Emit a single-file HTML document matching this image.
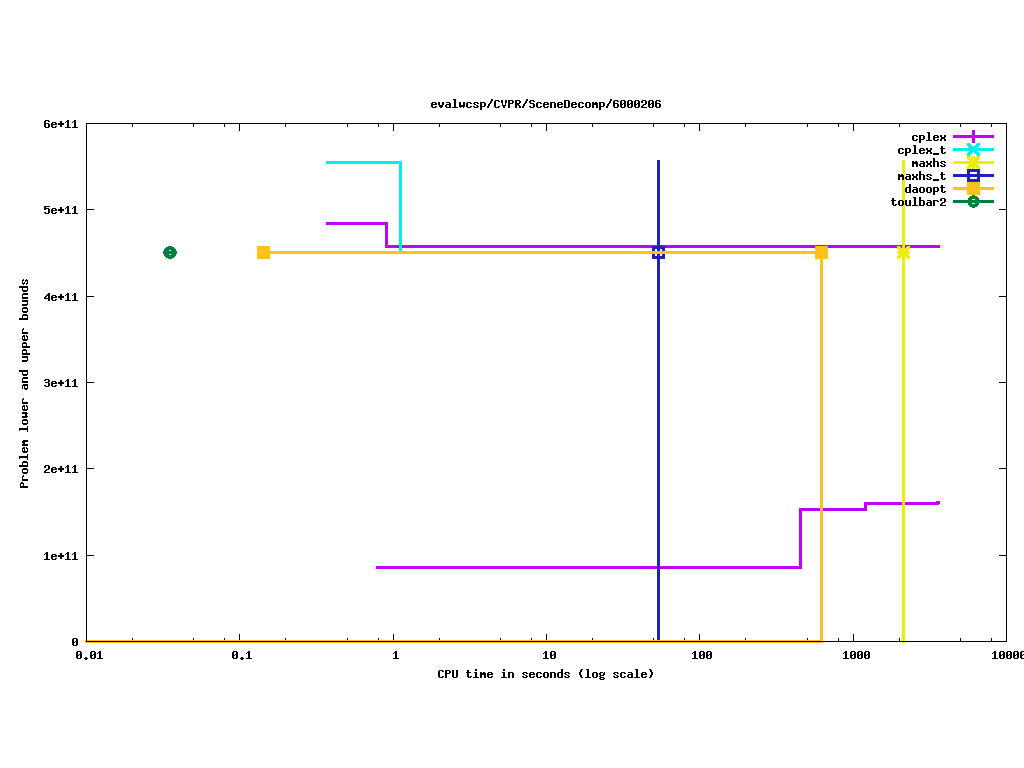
<!DOCTYPE html>
<html><head><meta charset="utf-8"><title>evalwcsp/CVPR/SceneDecomp/6000206</title>
<style>
html,body{margin:0;padding:0;background:#fff;overflow:hidden}
svg{display:block}
</style></head><body>
<svg width="1024" height="768" viewBox="0 0 1024 768" shape-rendering="crispEdges">
<defs>
<path id="g61" d="M1 5h4v1h-4zM4 6h2v1h-2zM1 7h5v1h-5zM0 8h2v1h-2zM4 8h2v1h-2zM0 9h2v1h-2zM4 9h2v1h-2zM1 10h5v1h-5z"/>
<path id="g62" d="M0 2h2v1h-2zM0 3h2v1h-2zM0 4h2v1h-2zM0 5h5v1h-5zM0 6h2v1h-2zM4 6h2v1h-2zM0 7h2v1h-2zM4 7h2v1h-2zM0 8h2v1h-2zM4 8h2v1h-2zM0 9h2v1h-2zM4 9h2v1h-2zM0 10h5v1h-5z"/>
<path id="g63" d="M1 5h4v1h-4zM0 6h2v1h-2zM4 6h2v1h-2zM0 7h2v1h-2zM0 8h2v1h-2zM0 9h2v1h-2zM4 9h2v1h-2zM1 10h4v1h-4z"/>
<path id="g64" d="M4 2h2v1h-2zM4 3h2v1h-2zM4 4h2v1h-2zM1 5h5v1h-5zM0 6h2v1h-2zM4 6h2v1h-2zM0 7h2v1h-2zM4 7h2v1h-2zM0 8h2v1h-2zM4 8h2v1h-2zM0 9h2v1h-2zM4 9h2v1h-2zM1 10h5v1h-5z"/>
<path id="g65" d="M1 5h4v1h-4zM0 6h2v1h-2zM4 6h2v1h-2zM0 7h6v1h-6zM0 8h2v1h-2zM0 9h2v1h-2zM4 9h2v1h-2zM1 10h4v1h-4z"/>
<path id="g67" d="M1 5h3v1h-3zM5 5h1v1h-1zM0 6h2v1h-2zM4 6h2v1h-2zM0 7h2v1h-2zM4 7h2v1h-2zM1 8h4v1h-4zM0 9h2v1h-2zM1 10h4v1h-4zM0 11h2v1h-2zM4 11h2v1h-2zM1 12h4v1h-4z"/>
<path id="g68" d="M0 2h2v1h-2zM0 3h2v1h-2zM0 4h2v1h-2zM0 5h5v1h-5zM0 6h2v1h-2zM4 6h2v1h-2zM0 7h2v1h-2zM4 7h2v1h-2zM0 8h2v1h-2zM4 8h2v1h-2zM0 9h2v1h-2zM4 9h2v1h-2zM0 10h2v1h-2zM4 10h2v1h-2z"/>
<path id="g69" d="M2 2h2v1h-2zM2 3h2v1h-2zM1 5h3v1h-3zM2 6h2v1h-2zM2 7h2v1h-2zM2 8h2v1h-2zM2 9h2v1h-2zM0 10h6v1h-6z"/>
<path id="g6c" d="M1 2h3v1h-3zM2 3h2v1h-2zM2 4h2v1h-2zM2 5h2v1h-2zM2 6h2v1h-2zM2 7h2v1h-2zM2 8h2v1h-2zM2 9h2v1h-2zM0 10h6v1h-6z"/>
<path id="g6d" d="M0 5h2v1h-2zM3 5h2v1h-2zM0 6h6v1h-6zM0 7h6v1h-6zM0 8h2v1h-2zM4 8h2v1h-2zM0 9h2v1h-2zM4 9h2v1h-2zM0 10h2v1h-2zM4 10h2v1h-2z"/>
<path id="g6e" d="M0 5h5v1h-5zM0 6h2v1h-2zM4 6h2v1h-2zM0 7h2v1h-2zM4 7h2v1h-2zM0 8h2v1h-2zM4 8h2v1h-2zM0 9h2v1h-2zM4 9h2v1h-2zM0 10h2v1h-2zM4 10h2v1h-2z"/>
<path id="g6f" d="M1 5h4v1h-4zM0 6h2v1h-2zM4 6h2v1h-2zM0 7h2v1h-2zM4 7h2v1h-2zM0 8h2v1h-2zM4 8h2v1h-2zM0 9h2v1h-2zM4 9h2v1h-2zM1 10h4v1h-4z"/>
<path id="g70" d="M0 5h5v1h-5zM0 6h2v1h-2zM4 6h2v1h-2zM0 7h2v1h-2zM4 7h2v1h-2zM0 8h2v1h-2zM4 8h2v1h-2zM0 9h5v1h-5zM0 10h2v1h-2zM0 11h2v1h-2zM0 12h2v1h-2z"/>
<path id="g72" d="M0 5h5v1h-5zM0 6h2v1h-2zM4 6h2v1h-2zM0 7h2v1h-2zM0 8h2v1h-2zM0 9h2v1h-2zM0 10h2v1h-2z"/>
<path id="g73" d="M1 5h4v1h-4zM0 6h2v1h-2zM4 6h2v1h-2zM1 7h2v1h-2zM3 8h2v1h-2zM0 9h2v1h-2zM4 9h2v1h-2zM1 10h4v1h-4z"/>
<path id="g74" d="M1 3h2v1h-2zM1 4h2v1h-2zM0 5h5v1h-5zM1 6h2v1h-2zM1 7h2v1h-2zM1 8h2v1h-2zM1 9h2v1h-2zM4 9h2v1h-2zM2 10h3v1h-3z"/>
<path id="g75" d="M0 5h2v1h-2zM4 5h2v1h-2zM0 6h2v1h-2zM4 6h2v1h-2zM0 7h2v1h-2zM4 7h2v1h-2zM0 8h2v1h-2zM4 8h2v1h-2zM0 9h2v1h-2zM4 9h2v1h-2zM1 10h5v1h-5z"/>
<path id="g76" d="M0 5h2v1h-2zM4 5h2v1h-2zM0 6h2v1h-2zM4 6h2v1h-2zM0 7h2v1h-2zM4 7h2v1h-2zM1 8h4v1h-4zM1 9h4v1h-4zM2 10h2v1h-2z"/>
<path id="g77" d="M0 5h2v1h-2zM4 5h2v1h-2zM0 6h2v1h-2zM4 6h2v1h-2zM0 7h2v1h-2zM4 7h2v1h-2zM0 8h6v1h-6zM0 9h6v1h-6zM1 10h1v1h-1zM4 10h1v1h-1z"/>
<path id="g78" d="M0 5h2v1h-2zM4 5h2v1h-2zM0 6h2v1h-2zM4 6h2v1h-2zM1 7h4v1h-4zM1 8h4v1h-4zM0 9h2v1h-2zM4 9h2v1h-2zM0 10h2v1h-2zM4 10h2v1h-2z"/>
<path id="g43" d="M1 3h4v1h-4zM0 4h2v1h-2zM4 4h2v1h-2zM0 5h2v1h-2zM0 6h2v1h-2zM0 7h2v1h-2zM0 8h2v1h-2zM0 9h2v1h-2zM4 9h2v1h-2zM1 10h4v1h-4z"/>
<path id="g44" d="M0 3h5v1h-5zM0 4h2v1h-2zM4 4h2v1h-2zM0 5h2v1h-2zM4 5h2v1h-2zM0 6h2v1h-2zM4 6h2v1h-2zM0 7h2v1h-2zM4 7h2v1h-2zM0 8h2v1h-2zM4 8h2v1h-2zM0 9h2v1h-2zM4 9h2v1h-2zM0 10h5v1h-5z"/>
<path id="g50" d="M0 3h5v1h-5zM0 4h2v1h-2zM4 4h2v1h-2zM0 5h2v1h-2zM4 5h2v1h-2zM0 6h5v1h-5zM0 7h2v1h-2zM0 8h2v1h-2zM0 9h2v1h-2zM0 10h2v1h-2z"/>
<path id="g52" d="M0 3h5v1h-5zM0 4h2v1h-2zM4 4h2v1h-2zM0 5h2v1h-2zM4 5h2v1h-2zM0 6h5v1h-5zM0 7h4v1h-4zM0 8h2v1h-2zM3 8h2v1h-2zM0 9h2v1h-2zM4 9h2v1h-2zM0 10h2v1h-2zM4 10h2v1h-2z"/>
<path id="g53" d="M1 3h4v1h-4zM0 4h2v1h-2zM4 4h2v1h-2zM0 5h2v1h-2zM1 6h4v1h-4zM4 7h2v1h-2zM4 8h2v1h-2zM0 9h2v1h-2zM4 9h2v1h-2zM1 10h4v1h-4z"/>
<path id="g55" d="M0 3h2v1h-2zM4 3h2v1h-2zM0 4h2v1h-2zM4 4h2v1h-2zM0 5h2v1h-2zM4 5h2v1h-2zM0 6h2v1h-2zM4 6h2v1h-2zM0 7h2v1h-2zM4 7h2v1h-2zM0 8h2v1h-2zM4 8h2v1h-2zM0 9h2v1h-2zM4 9h2v1h-2zM1 10h4v1h-4z"/>
<path id="g56" d="M0 3h2v1h-2zM4 3h2v1h-2zM0 4h2v1h-2zM4 4h2v1h-2zM0 5h2v1h-2zM4 5h2v1h-2zM1 6h1v1h-1zM4 6h1v1h-1zM1 7h1v1h-1zM4 7h1v1h-1zM1 8h4v1h-4zM2 9h2v1h-2zM2 10h2v1h-2z"/>
<path id="g30" d="M1 3h4v1h-4zM0 4h2v1h-2zM4 4h2v1h-2zM0 5h2v1h-2zM4 5h2v1h-2zM0 6h2v1h-2zM3 6h3v1h-3zM0 7h3v1h-3zM4 7h2v1h-2zM0 8h2v1h-2zM4 8h2v1h-2zM0 9h2v1h-2zM4 9h2v1h-2zM1 10h4v1h-4z"/>
<path id="g31" d="M2 3h2v1h-2zM1 4h3v1h-3zM0 5h1v1h-1zM2 5h2v1h-2zM2 6h2v1h-2zM2 7h2v1h-2zM2 8h2v1h-2zM2 9h2v1h-2zM0 10h6v1h-6z"/>
<path id="g32" d="M1 3h4v1h-4zM0 4h2v1h-2zM4 4h2v1h-2zM0 5h2v1h-2zM4 5h2v1h-2zM4 6h2v1h-2zM2 7h3v1h-3zM1 8h2v1h-2zM0 9h2v1h-2zM0 10h6v1h-6z"/>
<path id="g33" d="M1 3h4v1h-4zM0 4h2v1h-2zM4 4h2v1h-2zM4 5h2v1h-2zM1 6h4v1h-4zM4 7h2v1h-2zM4 8h2v1h-2zM0 9h2v1h-2zM4 9h2v1h-2zM1 10h4v1h-4z"/>
<path id="g34" d="M4 3h2v1h-2zM3 4h3v1h-3zM2 5h4v1h-4zM1 6h2v1h-2zM4 6h2v1h-2zM0 7h2v1h-2zM4 7h2v1h-2zM0 8h6v1h-6zM4 9h2v1h-2zM4 10h2v1h-2z"/>
<path id="g35" d="M0 3h6v1h-6zM0 4h2v1h-2zM0 5h5v1h-5zM0 6h2v1h-2zM4 6h2v1h-2zM4 7h2v1h-2zM4 8h2v1h-2zM0 9h2v1h-2zM4 9h2v1h-2zM1 10h4v1h-4z"/>
<path id="g36" d="M1 3h4v1h-4zM0 4h2v1h-2zM4 4h2v1h-2zM0 5h2v1h-2zM0 6h5v1h-5zM0 7h2v1h-2zM4 7h2v1h-2zM0 8h2v1h-2zM4 8h2v1h-2zM0 9h2v1h-2zM4 9h2v1h-2zM1 10h4v1h-4z"/>
<path id="g2f" d="M4 2h2v1h-2zM4 3h2v1h-2zM3 4h2v1h-2zM3 5h2v1h-2zM2 6h2v1h-2zM1 7h2v1h-2zM1 8h2v1h-2zM0 9h2v1h-2zM0 10h2v1h-2z"/>
<path id="g2b" d="M2 4h2v1h-2zM2 5h2v1h-2zM0 6h6v1h-6zM0 7h6v1h-6zM2 8h2v1h-2zM2 9h2v1h-2z"/>
<path id="g2e" d="M2 9h2v1h-2zM1 10h4v1h-4zM2 11h2v1h-2z"/>
<path id="g28" d="M3 2h2v1h-2zM2 3h2v1h-2zM2 4h2v1h-2zM1 5h2v1h-2zM1 6h2v1h-2zM1 7h2v1h-2zM2 8h2v1h-2zM2 9h2v1h-2zM3 10h2v1h-2z"/>
<path id="g29" d="M1 2h2v1h-2zM2 3h2v1h-2zM2 4h2v1h-2zM3 5h2v1h-2zM3 6h2v1h-2zM3 7h2v1h-2zM2 8h2v1h-2zM2 9h2v1h-2zM1 10h2v1h-2z"/>
<path id="g5f" d="M0 10h6v1h-6zM0 11h6v1h-6z"/>
</defs>
<rect x="0" y="0" width="1024" height="768" fill="#ffffff"/>
<g>
<rect x="86" y="123" width="1" height="8" fill="#000000"/>
<rect x="86" y="634" width="1" height="8" fill="#000000"/>
<rect x="132" y="123" width="1" height="4" fill="#000000"/>
<rect x="132" y="638" width="1" height="4" fill="#000000"/>
<rect x="193" y="123" width="1" height="4" fill="#000000"/>
<rect x="193" y="638" width="1" height="4" fill="#000000"/>
<rect x="224" y="123" width="1" height="4" fill="#000000"/>
<rect x="224" y="638" width="1" height="4" fill="#000000"/>
<rect x="239" y="123" width="1" height="8" fill="#000000"/>
<rect x="239" y="634" width="1" height="8" fill="#000000"/>
<rect x="285" y="123" width="1" height="4" fill="#000000"/>
<rect x="285" y="638" width="1" height="4" fill="#000000"/>
<rect x="347" y="123" width="1" height="4" fill="#000000"/>
<rect x="347" y="638" width="1" height="4" fill="#000000"/>
<rect x="378" y="123" width="1" height="4" fill="#000000"/>
<rect x="378" y="638" width="1" height="4" fill="#000000"/>
<rect x="393" y="123" width="1" height="8" fill="#000000"/>
<rect x="393" y="634" width="1" height="8" fill="#000000"/>
<rect x="439" y="123" width="1" height="4" fill="#000000"/>
<rect x="439" y="638" width="1" height="4" fill="#000000"/>
<rect x="500" y="123" width="1" height="4" fill="#000000"/>
<rect x="500" y="638" width="1" height="4" fill="#000000"/>
<rect x="531" y="123" width="1" height="4" fill="#000000"/>
<rect x="531" y="638" width="1" height="4" fill="#000000"/>
<rect x="546" y="123" width="1" height="8" fill="#000000"/>
<rect x="546" y="634" width="1" height="8" fill="#000000"/>
<rect x="592" y="123" width="1" height="4" fill="#000000"/>
<rect x="592" y="638" width="1" height="4" fill="#000000"/>
<rect x="653" y="123" width="1" height="4" fill="#000000"/>
<rect x="653" y="638" width="1" height="4" fill="#000000"/>
<rect x="684" y="123" width="1" height="4" fill="#000000"/>
<rect x="684" y="638" width="1" height="4" fill="#000000"/>
<rect x="699" y="123" width="1" height="8" fill="#000000"/>
<rect x="699" y="634" width="1" height="8" fill="#000000"/>
<rect x="745" y="123" width="1" height="4" fill="#000000"/>
<rect x="745" y="638" width="1" height="4" fill="#000000"/>
<rect x="807" y="123" width="1" height="4" fill="#000000"/>
<rect x="807" y="638" width="1" height="4" fill="#000000"/>
<rect x="838" y="123" width="1" height="4" fill="#000000"/>
<rect x="838" y="638" width="1" height="4" fill="#000000"/>
<rect x="853" y="123" width="1" height="8" fill="#000000"/>
<rect x="853" y="634" width="1" height="8" fill="#000000"/>
<rect x="899" y="123" width="1" height="4" fill="#000000"/>
<rect x="899" y="638" width="1" height="4" fill="#000000"/>
<rect x="960" y="123" width="1" height="4" fill="#000000"/>
<rect x="960" y="638" width="1" height="4" fill="#000000"/>
<rect x="991" y="123" width="1" height="4" fill="#000000"/>
<rect x="991" y="638" width="1" height="4" fill="#000000"/>
<rect x="1006" y="123" width="1" height="8" fill="#000000"/>
<rect x="1006" y="634" width="1" height="8" fill="#000000"/>
<rect x="86" y="123" width="8" height="1" fill="#000000"/>
<rect x="999" y="123" width="8" height="1" fill="#000000"/>
<rect x="86" y="209" width="8" height="1" fill="#000000"/>
<rect x="999" y="209" width="8" height="1" fill="#000000"/>
<rect x="86" y="296" width="8" height="1" fill="#000000"/>
<rect x="999" y="296" width="8" height="1" fill="#000000"/>
<rect x="86" y="382" width="8" height="1" fill="#000000"/>
<rect x="999" y="382" width="8" height="1" fill="#000000"/>
<rect x="86" y="468" width="8" height="1" fill="#000000"/>
<rect x="999" y="468" width="8" height="1" fill="#000000"/>
<rect x="86" y="555" width="8" height="1" fill="#000000"/>
<rect x="999" y="555" width="8" height="1" fill="#000000"/>
<rect x="86" y="641" width="8" height="1" fill="#000000"/>
<rect x="999" y="641" width="8" height="1" fill="#000000"/>
<rect x="326" y="222" width="62" height="3" fill="#c000ff"/>
<rect x="385" y="222" width="3" height="26" fill="#c000ff"/>
<rect x="385" y="245" width="555" height="3" fill="#c000ff"/>
<rect x="376" y="566" width="426" height="3" fill="#c000ff"/>
<rect x="799" y="508" width="3" height="61" fill="#c000ff"/>
<rect x="799" y="508" width="68" height="3" fill="#c000ff"/>
<rect x="864" y="502" width="3" height="9" fill="#c000ff"/>
<rect x="864" y="502" width="75" height="3" fill="#c000ff"/>
<rect x="936" y="501" width="4" height="3" fill="#c000ff"/>
<rect x="953" y="135" width="41" height="3" fill="#c000ff"/>
<path d="M972 130h3v1h-3zM972 131h3v1h-3zM972 132h3v1h-3zM972 133h3v1h-3zM972 134h3v1h-3zM967 135h13v1h-13zM967 136h13v1h-13zM967 137h13v1h-13zM972 138h3v1h-3zM972 139h3v1h-3zM972 140h3v1h-3zM972 141h3v1h-3zM972 142h3v1h-3z" fill="#c000ff"/>
<rect x="326" y="161" width="76" height="3" fill="#00eeee"/>
<rect x="399" y="161" width="3" height="90" fill="#00eeee"/>
<rect x="953" y="148" width="41" height="3" fill="#00eeee"/>
<path d="M967 143h3v1h-3zM977 143h3v1h-3zM967 144h4v1h-4zM976 144h4v1h-4zM967 145h5v1h-5zM975 145h5v1h-5zM968 146h5v1h-5zM974 146h5v1h-5zM969 147h9v1h-9zM970 148h7v1h-7zM971 149h5v1h-5zM970 150h7v1h-7zM969 151h9v1h-9zM968 152h5v1h-5zM974 152h5v1h-5zM967 153h5v1h-5zM975 153h5v1h-5zM967 154h4v1h-4zM976 154h4v1h-4zM967 155h3v1h-3zM977 155h3v1h-3z" fill="#00eeee"/>
<rect x="902" y="160" width="3" height="483" fill="#eeee00"/>
<path d="M897 246h3v1h-3zM902 246h3v1h-3zM907 246h3v1h-3zM897 247h4v1h-4zM902 247h3v1h-3zM906 247h4v1h-4zM897 248h13v1h-13zM898 249h11v1h-11zM899 250h9v1h-9zM897 251h13v1h-13zM897 252h13v1h-13zM897 253h13v1h-13zM899 254h9v1h-9zM898 255h11v1h-11zM897 256h13v1h-13zM897 257h4v1h-4zM902 257h3v1h-3zM906 257h4v1h-4zM897 258h3v1h-3zM902 258h3v1h-3zM907 258h3v1h-3z" fill="#eeee00"/>
<rect x="953" y="161" width="41" height="3" fill="#eeee00"/>
<path d="M967 156h3v1h-3zM972 156h3v1h-3zM977 156h3v1h-3zM967 157h4v1h-4zM972 157h3v1h-3zM976 157h4v1h-4zM967 158h13v1h-13zM968 159h11v1h-11zM969 160h9v1h-9zM967 161h13v1h-13zM967 162h13v1h-13zM967 163h13v1h-13zM969 164h9v1h-9zM968 165h11v1h-11zM967 166h13v1h-13zM967 167h4v1h-4zM972 167h3v1h-3zM976 167h4v1h-4zM967 168h3v1h-3zM972 168h3v1h-3zM977 168h3v1h-3z" fill="#eeee00"/>
<rect x="657" y="160" width="3" height="483" fill="#2020c0"/>
<path d="M652 246h13v1h-13zM652 247h13v1h-13zM652 248h13v1h-13zM652 249h3v1h-3zM662 249h3v1h-3zM652 250h3v1h-3zM662 250h3v1h-3zM652 251h3v1h-3zM662 251h3v1h-3zM652 252h3v1h-3zM662 252h3v1h-3zM652 253h3v1h-3zM662 253h3v1h-3zM652 254h3v1h-3zM662 254h3v1h-3zM652 255h3v1h-3zM662 255h3v1h-3zM652 256h13v1h-13zM652 257h13v1h-13zM652 258h13v1h-13z" fill="#2020c0"/>
<rect x="953" y="174" width="41" height="3" fill="#2020c0"/>
<path d="M967 169h13v1h-13zM967 170h13v1h-13zM967 171h13v1h-13zM967 172h3v1h-3zM977 172h3v1h-3zM967 173h3v1h-3zM977 173h3v1h-3zM967 174h3v1h-3zM977 174h3v1h-3zM967 175h3v1h-3zM977 175h3v1h-3zM967 176h3v1h-3zM977 176h3v1h-3zM967 177h3v1h-3zM977 177h3v1h-3zM967 178h3v1h-3zM977 178h3v1h-3zM967 179h13v1h-13zM967 180h13v1h-13zM967 181h13v1h-13z" fill="#2020c0"/>
<rect x="85" y="640" width="738" height="3" fill="#ffc020"/>
<rect x="820" y="251" width="3" height="392" fill="#ffc020"/>
<rect x="263" y="251" width="560" height="3" fill="#ffc020"/>
<rect x="257" y="246" width="13" height="13" fill="#ffc020"/>
<rect x="815" y="246" width="13" height="13" fill="#ffc020"/>
<rect x="953" y="187" width="41" height="3" fill="#ffc020"/>
<rect x="967" y="182" width="13" height="13" fill="#ffc020"/>
<path d="M168 246h4v1h-4zM166 247h8v1h-8zM165 248h10v1h-10zM164 249h12v1h-12zM164 250h5v1h-5zM171 250h5v1h-5zM163 251h14v1h-14zM163 252h14v1h-14zM163 253h14v1h-14zM164 254h5v1h-5zM171 254h5v1h-5zM164 255h12v1h-12zM165 256h10v1h-10zM166 257h8v1h-8zM168 258h4v1h-4z" fill="#008040"/>
<rect x="953" y="200" width="41" height="3" fill="#008040"/>
<path d="M972 195h3v1h-3zM970 196h7v1h-7zM969 197h9v1h-9zM968 198h11v1h-11zM968 199h4v1h-4zM975 199h4v1h-4zM968 200h4v1h-4zM975 200h4v1h-4zM968 201h4v1h-4zM975 201h4v1h-4zM968 202h4v1h-4zM975 202h4v1h-4zM968 203h4v1h-4zM975 203h4v1h-4zM968 204h11v1h-11zM969 205h9v1h-9zM970 206h7v1h-7zM972 207h3v1h-3z" fill="#008040"/>
<rect x="86" y="123" width="921" height="1" fill="#000000"/>
<rect x="86" y="641" width="921" height="1" fill="#000000"/>
<rect x="86" y="123" width="1" height="519" fill="#000000"/>
<rect x="1006" y="123" width="1" height="519" fill="#000000"/>
</g>
<g fill="#000000">
<g transform="translate(431 97)"><use href="#g65" x="0"/><use href="#g76" x="7"/><use href="#g61" x="14"/><use href="#g6c" x="21"/><use href="#g77" x="28"/><use href="#g63" x="35"/><use href="#g73" x="42"/><use href="#g70" x="49"/><use href="#g2f" x="56"/><use href="#g43" x="63"/><use href="#g56" x="70"/><use href="#g50" x="77"/><use href="#g52" x="84"/><use href="#g2f" x="91"/><use href="#g53" x="98"/><use href="#g63" x="105"/><use href="#g65" x="112"/><use href="#g6e" x="119"/><use href="#g65" x="126"/><use href="#g44" x="133"/><use href="#g65" x="140"/><use href="#g63" x="147"/><use href="#g6f" x="154"/><use href="#g6d" x="161"/><use href="#g70" x="168"/><use href="#g2f" x="175"/><use href="#g36" x="182"/><use href="#g30" x="189"/><use href="#g30" x="196"/><use href="#g30" x="203"/><use href="#g32" x="210"/><use href="#g30" x="217"/><use href="#g36" x="224"/></g>
<g transform="translate(438 667)"><use href="#g43" x="0"/><use href="#g50" x="7"/><use href="#g55" x="14"/><use href="#g74" x="28"/><use href="#g69" x="35"/><use href="#g6d" x="42"/><use href="#g65" x="49"/><use href="#g69" x="63"/><use href="#g6e" x="70"/><use href="#g73" x="84"/><use href="#g65" x="91"/><use href="#g63" x="98"/><use href="#g6f" x="105"/><use href="#g6e" x="112"/><use href="#g64" x="119"/><use href="#g73" x="126"/><use href="#g28" x="140"/><use href="#g6c" x="147"/><use href="#g6f" x="154"/><use href="#g67" x="161"/><use href="#g73" x="175"/><use href="#g63" x="182"/><use href="#g61" x="189"/><use href="#g6c" x="196"/><use href="#g65" x="203"/><use href="#g29" x="210"/></g>
<g transform="translate(17 488) rotate(-90)"><use href="#g50" x="0"/><use href="#g72" x="7"/><use href="#g6f" x="14"/><use href="#g62" x="21"/><use href="#g6c" x="28"/><use href="#g65" x="35"/><use href="#g6d" x="42"/><use href="#g6c" x="56"/><use href="#g6f" x="63"/><use href="#g77" x="70"/><use href="#g65" x="77"/><use href="#g72" x="84"/><use href="#g61" x="98"/><use href="#g6e" x="105"/><use href="#g64" x="112"/><use href="#g75" x="126"/><use href="#g70" x="133"/><use href="#g70" x="140"/><use href="#g65" x="147"/><use href="#g72" x="154"/><use href="#g62" x="168"/><use href="#g6f" x="175"/><use href="#g75" x="182"/><use href="#g6e" x="189"/><use href="#g64" x="196"/><use href="#g73" x="203"/></g>
<g transform="translate(44 117)"><use href="#g36" x="0"/><use href="#g65" x="7"/><use href="#g2b" x="14"/><use href="#g31" x="21"/><use href="#g31" x="28"/></g>
<g transform="translate(44 203)"><use href="#g35" x="0"/><use href="#g65" x="7"/><use href="#g2b" x="14"/><use href="#g31" x="21"/><use href="#g31" x="28"/></g>
<g transform="translate(44 290)"><use href="#g34" x="0"/><use href="#g65" x="7"/><use href="#g2b" x="14"/><use href="#g31" x="21"/><use href="#g31" x="28"/></g>
<g transform="translate(44 376)"><use href="#g33" x="0"/><use href="#g65" x="7"/><use href="#g2b" x="14"/><use href="#g31" x="21"/><use href="#g31" x="28"/></g>
<g transform="translate(44 462)"><use href="#g32" x="0"/><use href="#g65" x="7"/><use href="#g2b" x="14"/><use href="#g31" x="21"/><use href="#g31" x="28"/></g>
<g transform="translate(44 549)"><use href="#g31" x="0"/><use href="#g65" x="7"/><use href="#g2b" x="14"/><use href="#g31" x="21"/><use href="#g31" x="28"/></g>
<g transform="translate(72 635)"><use href="#g30" x="0"/></g>
<g transform="translate(76 648)"><use href="#g30" x="0"/><use href="#g2e" x="7"/><use href="#g30" x="14"/><use href="#g31" x="21"/></g>
<g transform="translate(232 648)"><use href="#g30" x="0"/><use href="#g2e" x="7"/><use href="#g31" x="14"/></g>
<g transform="translate(393 648)"><use href="#g31" x="0"/></g>
<g transform="translate(543 648)"><use href="#g31" x="0"/><use href="#g30" x="7"/></g>
<g transform="translate(692 648)"><use href="#g31" x="0"/><use href="#g30" x="7"/><use href="#g30" x="14"/></g>
<g transform="translate(843 648)"><use href="#g31" x="0"/><use href="#g30" x="7"/><use href="#g30" x="14"/><use href="#g30" x="21"/></g>
<g transform="translate(992 648)"><use href="#g31" x="0"/><use href="#g30" x="7"/><use href="#g30" x="14"/><use href="#g30" x="21"/><use href="#g30" x="28"/></g>
<g transform="translate(912 130)"><use href="#g63" x="0"/><use href="#g70" x="7"/><use href="#g6c" x="14"/><use href="#g65" x="21"/><use href="#g78" x="28"/></g>
<g transform="translate(898 143)"><use href="#g63" x="0"/><use href="#g70" x="7"/><use href="#g6c" x="14"/><use href="#g65" x="21"/><use href="#g78" x="28"/><use href="#g5f" x="35"/><use href="#g74" x="42"/></g>
<g transform="translate(912 156)"><use href="#g6d" x="0"/><use href="#g61" x="7"/><use href="#g78" x="14"/><use href="#g68" x="21"/><use href="#g73" x="28"/></g>
<g transform="translate(898 169)"><use href="#g6d" x="0"/><use href="#g61" x="7"/><use href="#g78" x="14"/><use href="#g68" x="21"/><use href="#g73" x="28"/><use href="#g5f" x="35"/><use href="#g74" x="42"/></g>
<g transform="translate(905 182)"><use href="#g64" x="0"/><use href="#g61" x="7"/><use href="#g6f" x="14"/><use href="#g6f" x="21"/><use href="#g70" x="28"/><use href="#g74" x="35"/></g>
<g transform="translate(891 195)"><use href="#g74" x="0"/><use href="#g6f" x="7"/><use href="#g75" x="14"/><use href="#g6c" x="21"/><use href="#g62" x="28"/><use href="#g61" x="35"/><use href="#g72" x="42"/><use href="#g32" x="49"/></g>
</g>
</svg>
</body></html>
